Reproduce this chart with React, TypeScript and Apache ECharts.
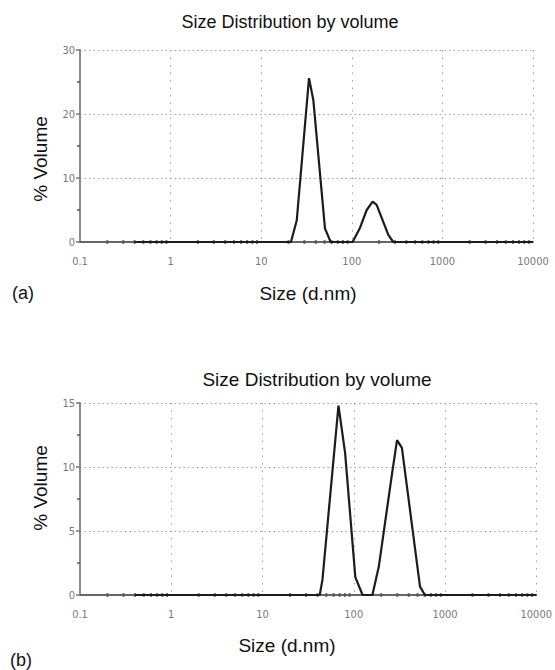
import React, { useEffect, useRef } from "react";
import * as echarts from "echarts";

// X-axis (log) tick labels and minor-tick layout
const sizeTicks = [0.1, 1, 10, 100, 1000, 10000];
const minorMultipliers = [2, 3, 4, 5, 6, 7, 8, 9];
const decadeStarts = [0.1, 1, 10, 100, 1000];

// (a) size distribution by volume
const sizesA = [0.4, 21.3, 24.7, 33.7, 37.6, 50.6, 58.5, 102, 123, 146, 170, 188, 253, 287, 10000];
const volumeA = [0, 0, 3.4, 25.6, 22.2, 2.1, 0, 0, 2.2, 5.0, 6.3, 5.8, 1.1, 0, 0];

// (b) size distribution by volume
const sizesB = [0.4, 42.4, 45.4, 68, 80.4, 104, 125, 160, 188, 263, 298, 337, 532, 602, 10000];
const volumeB = [0, 0, 1.2, 14.8, 11.1, 1.4, 0, 0, 2.2, 9.5, 12.1, 11.5, 0.65, 0, 0];

// Y-axis ranges
const yMaxA = 30;
const yStepA = 10;
const yMaxB = 15;
const yStepB = 5;

const TEXT_FONT = '"Liberation Sans", Arial, sans-serif';
const TICK_FONT = '"Liberation Sans Narrow", "Arial Narrow", "DejaVu Sans Condensed", "Liberation Sans", sans-serif';

const minorTickValues = decadeStarts.flatMap((d) => minorMultipliers.map((m) => Number((d * m).toPrecision(6))));

function fmtSize(v: number) {
  return String(Number(v.toPrecision(6)));
}

function xAxisFor(gridIndex: number) {
  return {
    type: "log",
    gridIndex,
    logBase: 10,
    min: sizeTicks[0],
    max: sizeTicks[sizeTicks.length - 1],
    axisLine: { show: true, lineStyle: { color: "#666", width: 2 } },
    axisTick: { show: false },
    axisLabel: {
      color: "#7a7a7a",
      fontSize: 11,
      fontFamily: TICK_FONT,
      margin: 14,
      formatter: (v: number) => fmtSize(v),
    },
    splitLine: { show: true, lineStyle: { color: "#a0a0a0", width: 1, type: [1.5, 6] } },
    minorTick: { show: false },
  };
}

function yAxisFor(gridIndex: number, max: number, step: number) {
  return {
    type: "value",
    gridIndex,
    min: 0,
    max,
    interval: step,
    axisLine: { show: true, lineStyle: { color: "#8c8c8c", width: 2 } },
    axisTick: { show: true, length: 4, lineStyle: { color: "#777", width: 1.5 } },
    minorTick: { show: true, splitNumber: 2, length: 3, lineStyle: { color: "#555", width: 1.5 } },
    axisLabel: { color: "#7a7a7a", fontSize: 11, fontFamily: TICK_FONT, margin: 5 },
    splitLine: { show: true, lineStyle: { color: "#a0a0a0", width: 1, type: [1.5, 3] } },
  };
}

function textEl(text: string, x: number, y: number, size: number, rotation = 0) {
  return {
    type: "text",
    x,
    y,
    rotation,
    style: {
      text,
      fill: "#111",
      fontSize: size,
      fontFamily: TEXT_FONT,
      align: "center",
      verticalAlign: "middle",
    },
  };
}

export default function App() {
  const ref = useRef<HTMLDivElement>(null);

  useEffect(() => {
    document.body.style.margin = "0";
    if (!ref.current) return;
    const chart = echarts.init(ref.current, undefined, { renderer: "svg" });
    chart.setOption({
      animation: false,
      backgroundColor: "#ffffff",
      grid: [
        { left: 80, top: 50, width: 453, height: 192 },
        { left: 80, top: 403, width: 463, height: 192 },
      ],
      xAxis: [xAxisFor(0), xAxisFor(1)],
      yAxis: [yAxisFor(0, yMaxA, yStepA), yAxisFor(1, yMaxB, yStepB)],
      series: [
        {
          name: "minor ticks (a)",
          type: "scatter",
          xAxisIndex: 0,
          yAxisIndex: 0,
          symbol: "rect",
          symbolSize: [2, 4],
          itemStyle: { color: "#555" },
          silent: true,
          z: 3,
          data: minorTickValues.map((v) => [v, 0]),
        },
        {
          name: "minor ticks (b)",
          type: "scatter",
          xAxisIndex: 1,
          yAxisIndex: 1,
          symbol: "rect",
          symbolSize: [2, 4],
          itemStyle: { color: "#555" },
          silent: true,
          z: 3,
          data: minorTickValues.map((v) => [v, 0]),
        },
        {
          name: "(a)",
          type: "line",
          xAxisIndex: 0,
          yAxisIndex: 0,
          showSymbol: false,
          symbol: "none",
          lineStyle: { color: "#1c1c1c", width: 2.2 },
          z: 5,
          data: sizesA.map((s, i) => [s, volumeA[i]]),
        },
        {
          name: "(b)",
          type: "line",
          xAxisIndex: 1,
          yAxisIndex: 1,
          showSymbol: false,
          symbol: "none",
          lineStyle: { color: "#1c1c1c", width: 2.2 },
          z: 5,
          data: sizesB.map((s, i) => [s, volumeB[i]]),
        },
      ],
      graphic: [
        textEl("Size Distribution by volume", 290, 22, 18),
        textEl("% Volume", 40, 159, 19, Math.PI / 2),
        textEl("Size (d.nm)", 308, 293, 19),
        textEl("(a)", 23, 293, 18),
        textEl("Size Distribution by volume", 317, 379, 19),
        textEl("% Volume", 40, 488, 19, Math.PI / 2),
        textEl("Size (d.nm)", 287, 645, 19),
        textEl("(b)", 21, 660, 18),
      ],
    });
    return () => chart.dispose();
  }, []);

  return <div ref={ref} style={{ width: 555, height: 670 }} />;
}
